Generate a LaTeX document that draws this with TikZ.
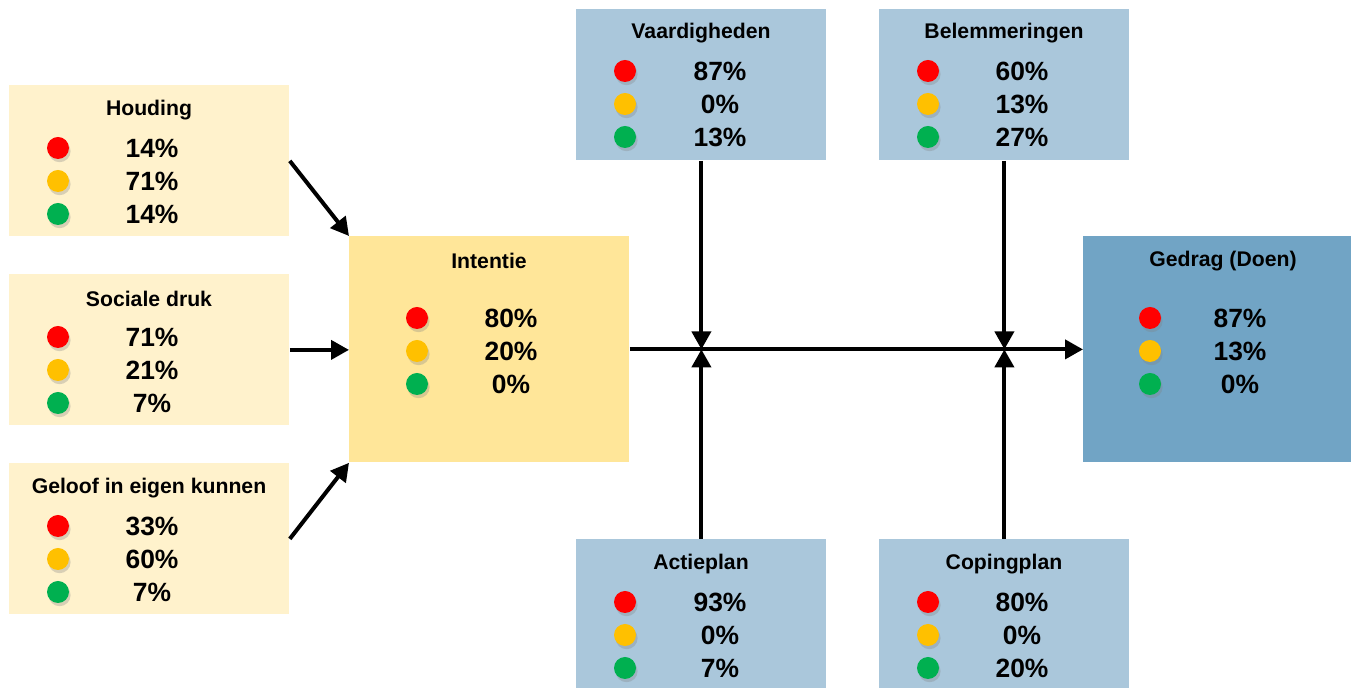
\documentclass[tikz,border=0pt]{standalone}
\usepackage{fontspec}
\setmainfont{Liberation Sans}
\usetikzlibrary{arrows.meta,shadows}

\definecolor{paleyellow}{HTML}{FFF2CC}
\definecolor{midyellow}{HTML}{FFE699}
\definecolor{paleblue}{HTML}{AAC7DB}
\definecolor{midblue}{HTML}{71A4C5}
\definecolor{lightred}{HTML}{FF0000}
\definecolor{lightamber}{HTML}{FFC000}
\definecolor{lightgreen}{HTML}{00B050}

\tikzset{
  box/.style={anchor=north west, inner sep=0pt},
  boxtitle/.style={font=\fontsize{10.6}{12}\selectfont\bfseries},
  pct/.style={font=\fontsize{13.2}{15}\selectfont\bfseries},
  dot/.style={circle, minimum size=11pt, inner sep=0pt,
    drop shadow={shadow xshift=0.8pt, shadow yshift=-1.6pt, opacity=0.3}},
  arrow/.style={line width=2pt, -{Triangle[length=9pt,width=9.5pt]}}
}

% #1 name, #2 dot x, #3 number x, #4 first row y, #5 red, #6 amber, #7 green
\newcommand{\lights}[7]{%
  \node[dot, fill=lightred] (#1r) at (#2,#4) {};
  \node[dot, fill=lightamber] (#1a) at (#2,#4+33) {};
  \node[dot, fill=lightgreen] (#1g) at (#2,#4+66) {};
  \node[pct] (#1rv) at (#3,#4) {#5};
  \node[pct] (#1av) at (#3,#4+33) {#6};
  \node[pct] (#1gv) at (#3,#4+66) {#7};
}

\begin{document}
\begin{tikzpicture}[x=0.5pt, y=-0.5pt]
\useasboundingbox (0,0) rectangle (1351,688);

% LEFT COLUMN
\node[box, fill=paleyellow, minimum width=140pt, minimum height=75.5pt] (houding) at (9,85) {};
\node[boxtitle] (houdingt) at (149,110) {Houding};
\lights{houding}{58}{152}{148}{14\%}{71\%}{14\%}

\node[box, fill=paleyellow, minimum width=140pt, minimum height=75.5pt] (sociaal) at (9,274) {};
\node[boxtitle] (sociaalt) at (149,299) {Sociale druk};
\lights{sociaal}{58}{152}{337}{71\%}{21\%}{7\%}

\node[box, fill=paleyellow, minimum width=140pt, minimum height=75.5pt] (geloof) at (9,463) {};
\node[boxtitle] (geloooft) at (149,488) {Geloof in eigen kunnen};
\lights{geloof}{58}{152}{526}{33\%}{60\%}{7\%}

% MIDDLE
\node[box, fill=midyellow, minimum width=140pt, minimum height=113pt] (intentie) at (349,236) {};
\node[boxtitle] (intentiet) at (489,261) {Intentie};
\lights{intentie}{417}{511}{318}{80\%}{20\%}{0\%}

% TOP ROW
\node[box, fill=paleblue, minimum width=125pt, minimum height=75.5pt] (vaardig) at (576,9) {};
\node[boxtitle] (vaardigt) at (701,33) {Vaardigheden};
\lights{vaardig}{625}{720}{71}{87\%}{0\%}{13\%}

\node[box, fill=paleblue, minimum width=125pt, minimum height=75.5pt] (belem) at (879,9) {};
\node[boxtitle] (belemt) at (1004,33) {Belemmeringen};
\lights{belem}{928}{1022}{71}{60\%}{13\%}{27\%}

% BOTTOM ROW
\node[box, fill=paleblue, minimum width=125pt, minimum height=75pt] (actie) at (576,539) {};
\node[boxtitle] (actiet) at (701,564) {Actieplan};
\lights{actie}{625}{720}{602}{93\%}{0\%}{7\%}

\node[box, fill=paleblue, minimum width=125pt, minimum height=75pt] (coping) at (879,539) {};
\node[boxtitle] (copingt) at (1004,564) {Copingplan};
\lights{coping}{928}{1022}{602}{80\%}{0\%}{20\%}

% RIGHT
\node[box, fill=midblue, minimum width=134pt, minimum height=113pt] (gedrag) at (1083,236) {};
\node[boxtitle] (gedragt) at (1223,261) {Gedrag (Doen)};
\lights{gedrag}{1150}{1240}{318}{87\%}{13\%}{0\%}

% ARROWS
\draw[arrow] (houding.east) -- (intentie.north west);
\draw[arrow] (sociaal.east) -- (sociaal.east -| intentie.west);
\draw[arrow] (geloof.east) -- (intentie.south west);
\draw[arrow] (intentie.east) -- (gedrag.west);

\coordinate (meet1) at (vaardig.south |- intentie.east);
\coordinate (meet2) at (belem.south |- intentie.east);
\draw[arrow] (vaardig.south) -- (meet1);
\draw[arrow] (actie.north) -- (meet1);
\draw[arrow] (belem.south) -- (meet2);
\draw[arrow] (coping.north) -- (meet2);
\end{tikzpicture}
\end{document}
